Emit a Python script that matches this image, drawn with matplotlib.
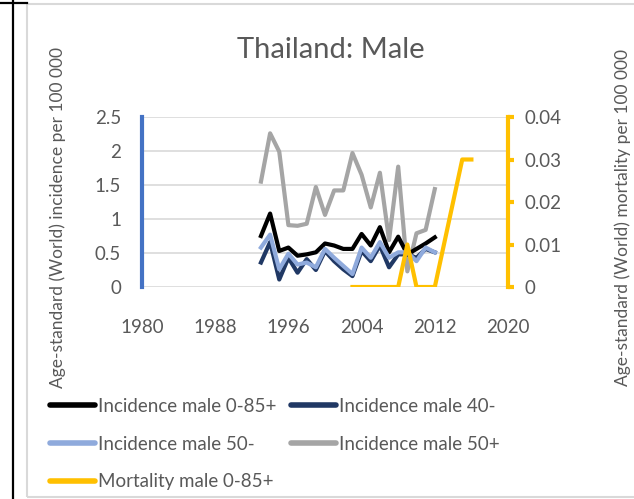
import matplotlib.pyplot as plt
from matplotlib.patches import Rectangle
from matplotlib.lines import Line2D

plt.rcParams['font.family'] = ['Lato', 'DejaVu Sans']

# incidence, per 100 000 (left axis)
years_inc = list(range(1993, 2013))
inc_all = [0.75, 1.08, 0.53, 0.58, 0.46, 0.48, 0.51, 0.64, 0.61, 0.56,
           0.56, 0.78, 0.61, 0.88, 0.51, 0.74, 0.48, 0.56, 0.64, 0.73]
inc_40 = [0.36, 0.66, 0.11, 0.43, 0.21, 0.41, 0.25, 0.53, 0.38, 0.26,
          0.16, 0.53, 0.38, 0.61, 0.29, 0.48, 0.48, 0.43, 0.56, 0.51]
inc_50m = [0.58, 0.77, 0.26, 0.49, 0.33, 0.36, 0.29, 0.56, 0.43, 0.31,
           0.19, 0.58, 0.43, 0.66, 0.43, 0.51, 0.51, 0.38, 0.58, 0.51]
inc_50p = [1.55, 2.26, 1.99, 0.91, 0.90, 0.93, 1.47, 1.06, 1.42, 1.42,
           1.97, 1.65, 1.17, 1.68, 0.69, 1.77, 0.23, 0.79, 0.84, 1.44]

# mortality (right axis)
years_mort = list(range(2003, 2017))
mort_all = [0, 0, 0, 0, 0, 0, 0.01, 0, 0, 0, 0.01, 0.02, 0.03, 0.03]

xticks = [1980, 1988, 1996, 2004, 2012, 2020]

txt = '#595959'
grid = '#D9D9D9'

fig = plt.figure(figsize=(6.34, 4.99), dpi=100)

# sheet borders and chart frame
fig.add_artist(Line2D([13/634, 13/634], [0, 1], color='black', lw=1.6))
fig.add_artist(Line2D([0, 27/634], [1 - 3/499, 1 - 3/499], color='black', lw=1.6))
fig.add_artist(Rectangle((27/634, 2/499), 1.2, 1 - 6/499, fill=False,
                         edgecolor=grid, lw=1.5))

ax = fig.add_axes([142/634, 1 - 287/499, 366/634, 170/499])
ax2 = ax.twinx()

ax.plot(years_inc, inc_50p, color='#A5A5A5', lw=3, label='Incidence male 50+')
ax.plot(years_inc, inc_all, color='black', lw=3, label='Incidence male 0-85+')
ax.plot(years_inc, inc_40, color='#203864', lw=3, label='Incidence male 40-')
ax.plot(years_inc, inc_50m, color='#8FAADC', lw=3, label='Incidence male 50-')
ax2.plot(years_mort, mort_all, color='#FFC000', lw=3, label='Mortality male 0-85+')

ax.set_xlim(1980, 2020)
ax.set_ylim(0, 2.5)
ax.set_xticks(xticks)
ax.set_yticks([0, 0.5, 1, 1.5, 2, 2.5])
ax.set_yticklabels(['0', '0.5', '1', '1.5', '2', '2.5'])
ax2.set_ylim(0, 0.04)
ax2.set_yticks([0, 0.01, 0.02, 0.03, 0.04])
ax2.set_yticklabels(['0', '0.01', '0.02', '0.03', '0.04'])

ax.grid(axis='y', color=grid, lw=1.2)
ax.set_axisbelow(True)
for s in ['top', 'right', 'bottom']:
    ax.spines[s].set_visible(False)
for s in ['top', 'left', 'bottom']:
    ax2.spines[s].set_visible(False)
ax.spines['left'].set_color('#4472C4')
ax.spines['left'].set_linewidth(3)
ax2.spines['right'].set_color('#FFC000')
ax2.spines['right'].set_linewidth(3)

ax.tick_params(axis='x', length=0, labelsize=13.5, labelcolor=txt, pad=23)
ax.tick_params(axis='y', length=0, labelsize=13.5, labelcolor=txt, pad=15)
ax2.tick_params(axis='y', length=4, width=3, color='#FFC000', labelsize=13.5,
                labelcolor=txt, pad=8)

fig.text(331/634, 1 - 50/499, 'Thailand: Male', ha='center', va='center',
         fontsize=21, color=txt)
fig.text(58/634, 1 - 218/499, 'Age-standard (World) incidence per 100 000',
         rotation=90, ha='center', va='center', fontsize=12.5, color=txt)
fig.text(623/634, 1 - 218/499, 'Age-standard (World) mortality per 100 000',
         rotation=90, ha='center', va='center', fontsize=12.5, color=txt)

h = {l.get_label(): l for l in ax.get_lines() + ax2.get_lines()}
order = ['Incidence male 0-85+', 'Incidence male 50-', 'Mortality male 0-85+',
         'Incidence male 40-', 'Incidence male 50+']
leg = fig.legend([h[k] for k in order], order, ncol=2, loc='upper left',
                 bbox_to_anchor=(50/634, 1 - 398/499), frameon=False,
                 fontsize=13.5, labelcolor=txt, handlelength=2.4,
                 handletextpad=0.15, columnspacing=0.8, labelspacing=1.1,
                 borderaxespad=0, borderpad=0)
for ln in leg.get_lines():
    ln.set_linewidth(4)
    ln.set_solid_capstyle('round')

fig.savefig('out.png', dpi=100)
